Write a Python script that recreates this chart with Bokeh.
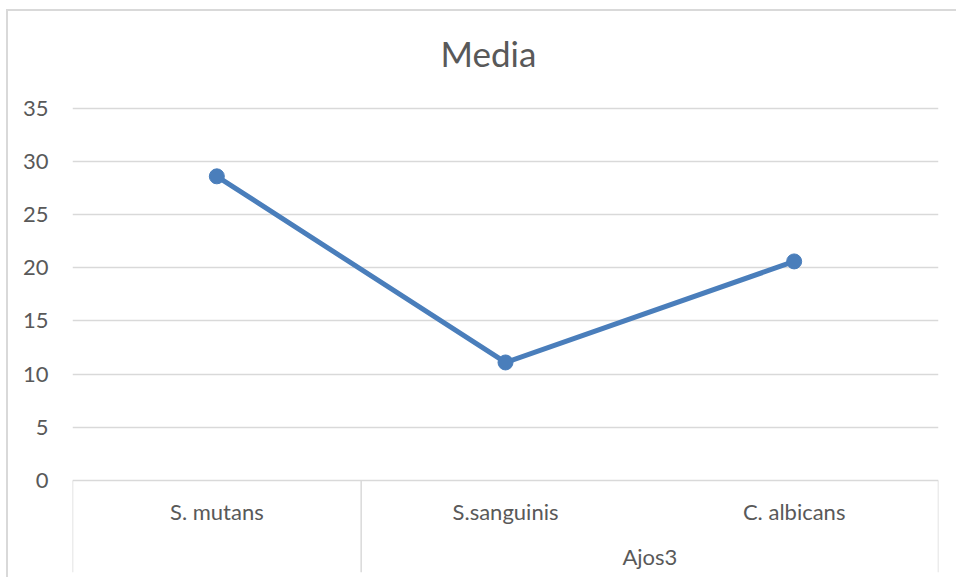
from bokeh.plotting import figure
from bokeh.models import ColumnDataSource, FixedTicker, Range1d, Label
from bokeh.core.properties import value
from bokeh.embed import file_html
from bokeh.resources import INLINE

# Data
categories = ["S. mutans", "S.sanguinis", "C. albicans"]
media = [28.6, 11.1, 20.6]
group_name = "Ajos3"
group_members = ["S.sanguinis", "C. albicans"]
y_ticks = [0, 5, 10, 15, 20, 25, 30, 35]
chart_title = "Media"

FONT = "Lato"
TEXT_COLOR = "#595959"
GRID_COLOR = "#d9d9d9"
LINE_COLOR = "#4a7ebb"

xs = [i + 0.5 for i in range(len(categories))]
src = ColumnDataSource(dict(x=xs, y=media, cat=categories))

# the frame spans the whole chart area: the category band below zero
# and the title space above the top tick
y_floor = -8.65
y_ceiling = 44.1

p = figure(width=950, height=568, x_range=Range1d(0, len(categories)),
           y_range=Range1d(y_floor, y_ceiling),
           output_backend="svg", toolbar_location=None,
           min_border_left=64, min_border_right=20,
           min_border_top=0, min_border_bottom=7)
p.styles = {"border-left": "2px solid #d9d9d9", "border-top": "2px solid #d9d9d9",
            "margin-left": "6px", "margin-top": "9px"}

p.outline_line_color = None
p.background_fill_color = "white"
p.border_fill_color = "white"

p.xaxis.visible = False
p.xgrid.visible = False

yaxis = p.yaxis[0]
yaxis.ticker = FixedTicker(ticks=y_ticks)
yaxis.axis_line_color = None
yaxis.major_tick_line_color = None
yaxis.minor_tick_line_color = None
yaxis.major_tick_out = 0
yaxis.major_tick_in = 0
yaxis.major_label_standoff = 24
yaxis.major_label_text_font = FONT
yaxis.major_label_text_font_size = "22px"
yaxis.major_label_text_color = TEXT_COLOR

p.ygrid.ticker = FixedTicker(ticks=y_ticks)
p.ygrid.grid_line_color = GRID_COLOR
p.ygrid.grid_line_width = 1.5

# chart title, centred over the whole chart area rather than the plot frame
p.add_layout(Label(x=416, x_units="screen", y=max(y_ticks), y_units="data",
                   y_offset=55, text=chart_title, text_font=FONT,
                   text_font_size="35px", text_color=TEXT_COLOR,
                   text_align="center", text_baseline="alphabetic"))

# category band separators: outer edges and the group boundary
first_in_group = categories.index(group_members[0])
last_in_group = categories.index(group_members[-1])
sep_x = [0, first_in_group, len(categories)]
p.segment(x0=sep_x, y0=[0] * len(sep_x), x1=sep_x, y1=[y_floor] * len(sep_x),
          line_color=GRID_COLOR, line_width=1.5)

# category labels
p.text(x="x", y=0, text="cat", source=src, y_offset=31,
       text_font=value(FONT), text_font_size="22px", text_color=TEXT_COLOR,
       text_align="center", text_baseline="middle")

# group label centred over its members
gx = (first_in_group + last_in_group + 1) / 2
p.text(x=[gx], y=[0], text=[group_name], y_offset=76,
       text_font=value(FONT), text_font_size="22px", text_color=TEXT_COLOR,
       text_align="center", text_baseline="middle")

# series
p.line(x="x", y="y", source=src, line_color=LINE_COLOR, line_width=5,
       line_join="round", line_cap="round")
p.scatter(x="x", y="y", source=src, size=15, fill_color=LINE_COLOR,
          line_color=LINE_COLOR)

open("out.html", "w").write(file_html(p, INLINE))
